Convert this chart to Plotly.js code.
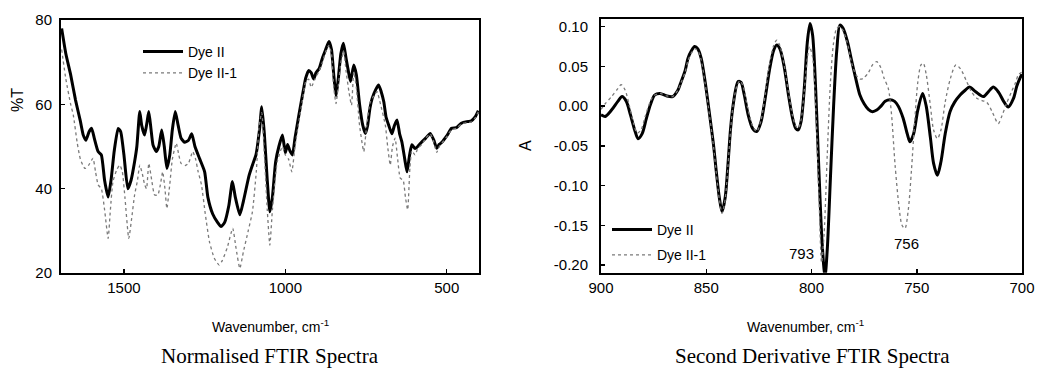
<!DOCTYPE html>
<html>
<head>
<meta charset="utf-8">
<script src="https://cdn.plot.ly/plotly-3.0.1.min.js"></script>
<style>html,body{margin:0;padding:0;background:#fff;}#chart{width:1038px;height:372px;}</style>
</head>
<body>
<div id="chart"></div>
<script>
// ---------- Normalised FTIR spectra (%T vs wavenumber) ----------
const wnNormDyeII = [1693,1680,1665,1650,1635,1626,1618,1608,1600,1592,1580,1570,1560,1549,1540,1530,1518,1510,1500,1488,1478,1467,1460,1451,1445,1436,1428,1423,1416,1410,1400,1392,1383,1375,1367,1358,1350,1341,1332,1323,1312,1300,1290,1280,1265,1250,1240,1225,1210,1199,1188,1175,1164,1155,1141,1130,1112,1100,1091,1080,1073,1065,1056,1048,1040,1030,1020,1009,1000,993,986,978,970,958,945,937,928,920,912,905,895,885,875,865,857,850,843,836,828,820,812,805,798,788,780,770,760,752,745,738,731,720,711,703,695,688,680,670,662,654,646,639,630,623,615,608,598,590,577,565,551,540,531,523,515,500,485,470,455,438,425,412,402];
const tNormDyeII = [78,72,67,61,56,52.7,51.5,53.5,54.3,52,48.8,48,42,38,42,49,54.3,53.5,48,40,42,46.4,50,58.3,55,52.7,56,58.3,54,50.4,48.8,50,53.9,50,44.8,48,54,58.3,55,52,51,51.5,53,50,47,44,38,34,32,31,32,36,41.7,38,33.8,37,43.2,46,48,54,59.4,53,42,34.5,38,46.4,50,52.7,48.5,50.5,49,48,52,57.5,63,66.2,68,67.5,66,67.5,68.5,71,73,74.9,73,67,62,66,72,74.5,71,68,65.4,69.3,67,60,55,53.1,55,59,61.4,63.5,64.6,63,60.6,57,55.1,53,55,56.3,53,51.1,47,44,48,50.4,49.5,50,51.1,52,53.1,51.5,49.6,50.5,51,52.5,54.3,54.5,55.5,55.9,56,57,58.5];
const wnNormDyeII1 = [1693,1680,1665,1657,1645,1635,1621,1610,1596,1588,1580,1570,1560,1549,1542,1534,1522,1513,1505,1497,1485,1476,1467,1458,1451,1443,1436,1430,1423,1414,1405,1395,1387,1380,1373,1367,1358,1350,1338,1330,1323,1310,1300,1287,1278,1270,1260,1248,1235,1220,1205,1195,1180,1163,1153,1141,1130,1115,1102,1090,1081,1073,1065,1056,1048,1040,1025,1009,1000,990,980,970,958,947,937,928,920,916,908,895,885,875,865,857,850,843,835,828,819,812,803,795,788,780,770,757,748,737,726,716,705,690,683,675,668,660,652,644,635,628,621,614,608,598,590,577,565,551,540,531,523,515,500,485,470,455,438,425,412,402];
const tNormDyeII1 = [73,66,60,57.5,51,47,44.8,45.5,47.2,44,40.9,40,35,28.2,35,41.7,44.5,45.6,44,38,28.2,33,38.5,42,45.6,43.5,41,40,46,42,38.5,38.5,41,44,40,35.3,41,47,50.8,48,46,45.5,46,48.8,47,44,41,34,27.4,23.5,21.9,23,26,30.6,26,21.1,25,30,34.5,44,55.1,58,48,35,26.6,35,46.4,50,48,47,44,50,56,61,65.4,66,64,64.6,66,68,70,72.5,74,72,64,60.2,65,70,72.5,68,63,59.8,67.7,64,55,48.8,55,60.5,62,63,60,55,50,45.6,50,52,47,42.5,42,38,35,45,49,48,49.5,50.5,52,53,51,48.6,50,50.8,52.3,54,54.3,55.3,55.7,55.8,56.8,58.2];

// ---------- Second derivative FTIR spectra (A vs wavenumber) ----------
const wnDerDyeII = [900,898,895,892,890,888,886,884,882.4,880.5,878.5,876.5,874.5,872,869,866,863.5,861.9,860,858.7,857,855.5,854,852.4,850.5,848.4,846.5,845.2,843.8,842.5,841,839.7,838.5,837.3,834.9,833.5,832,830,828,826,824,822,820,818,816.5,815,813,811,809,807.5,806.3,805,803.5,802,800.7,799.5,798,796.5,795,793.6,792.5,791,789.5,788,786.5,785,783,781,779,777,775,773,771,769,767,765,762.7,760.5,758.8,756.5,754.5,753.2,751.5,749.5,747.2,745.5,743.5,742,740.2,738.5,736.5,734.2,732,729.4,727,725,722,718.4,716,713.6,711,708.5,706.5,704,702.5,701,700];
const aDerDyeII = [-0.011,-0.013,-0.005,0.006,0.012,0.006,-0.011,-0.030,-0.041,-0.035,-0.016,0.002,0.014,0.016,0.013,0.012,0.020,0.031,0.045,0.060,0.070,0.075,0.072,0.060,0.030,-0.011,-0.050,-0.083,-0.115,-0.133,-0.115,-0.074,-0.030,0.000,0.031,0.030,0.015,-0.012,-0.028,-0.032,-0.020,0.010,0.045,0.070,0.077,0.072,0.050,0.015,-0.015,-0.028,-0.030,-0.020,0.020,0.080,0.104,0.090,0.020,-0.080,-0.170,-0.215,-0.180,-0.090,0.000,0.070,0.102,0.098,0.082,0.058,0.035,0.014,0.003,-0.004,-0.007,-0.005,0.000,0.006,0.008,0.006,0.000,-0.015,-0.035,-0.045,-0.035,-0.005,0.016,0.000,-0.040,-0.072,-0.087,-0.070,-0.035,-0.007,0.005,0.014,0.020,0.024,0.018,0.012,0.018,0.024,0.017,0.005,-0.001,0.010,0.025,0.035,0.040];
const wnDerDyeII1 = [900,898,895,892,890.4,888.5,886.5,884.5,882.8,881,879,877,875,872,869,866,863.5,861.9,860,858.7,857,855.5,854,852.4,850.5,848.4,846.5,845.2,843.8,842.5,841,839.7,838.5,837.3,835.5,834,832.5,830.5,828,826,824,822,820,818,816.5,815,813,811,809,807.5,806.3,805,803.5,802,801,799.5,798,796.5,795.2,794,792.5,791,789.5,788,786.5,785,783,781,779,777,775.4,773,771,769,767,765.5,763.5,762,760.3,758.5,757,755.6,754,752.5,751,749.5,748,746.9,745.5,743.5,742,740.2,738.5,736.5,734,731.4,729,726.3,724,721.5,719,716.8,714,711.3,709.5,707.4,705,703,701.8,700];
const aDerDyeII1 = [-0.004,0.003,0.012,0.022,0.027,0.020,0.000,-0.022,-0.034,-0.030,-0.013,0.003,0.013,0.016,0.013,0.012,0.020,0.030,0.043,0.057,0.067,0.072,0.070,0.058,0.028,-0.013,-0.052,-0.085,-0.117,-0.135,-0.117,-0.076,-0.032,0.000,0.025,0.032,0.025,0.000,-0.025,-0.032,-0.018,0.015,0.052,0.076,0.083,0.076,0.052,0.018,-0.012,-0.025,-0.028,-0.018,0.018,0.060,0.075,0.062,0.000,-0.110,-0.197,-0.160,-0.060,0.030,0.080,0.098,0.100,0.095,0.080,0.055,0.040,0.034,0.035,0.042,0.052,0.056,0.048,0.035,0.022,-0.010,-0.074,-0.125,-0.150,-0.154,-0.130,-0.080,-0.020,0.030,0.052,0.054,0.040,0.000,-0.030,-0.041,-0.030,0.005,0.035,0.052,0.046,0.031,0.018,0.010,0.007,0.005,-0.008,-0.022,-0.012,0.003,0.018,0.030,0.039,0.043];

// ---------- tick labels ----------
const leftXTicks = [1500, 1000, 500];
const leftYTicks = [20, 40, 60, 80];
const rightXTicks = [900, 850, 800, 750, 700];
const rightYTicks = [-0.20, -0.15, -0.10, -0.05, 0.00, 0.05, 0.10];
const rightYTickText = ['-0.20', '-0.15', '-0.10', '-0.05', '0.00', '0.05', '0.10'];

const seriesNames = ['Dye II', 'Dye II-1'];
const panelCaptions = ['Normalised FTIR Spectra', 'Second Derivative FTIR Spectra'];
const xTitle = 'Wavenumber, cm<sup>-1</sup>';
const peakLabels = ['793', '756'];

const thick = {color: '#000', width: 3};
const thin = {color: '#7a7a7a', width: 1.3, dash: 'dot'};

const traces = [
  {x: wnNormDyeII, y: tNormDyeII, name: seriesNames[0], type: 'scatter', mode: 'lines',
   line: Object.assign({shape: 'spline', smoothing: 0.5}, thick), xaxis: 'x', yaxis: 'y', legend: 'legend'},
  {x: wnNormDyeII1, y: tNormDyeII1, name: seriesNames[1], type: 'scatter', mode: 'lines',
   line: Object.assign({shape: 'spline', smoothing: 0.5}, thin), xaxis: 'x', yaxis: 'y', legend: 'legend'},
  {x: wnDerDyeII, y: aDerDyeII, name: seriesNames[0], type: 'scatter', mode: 'lines',
   line: Object.assign({shape: 'spline', smoothing: 0.8}, thick), xaxis: 'x2', yaxis: 'y2', legend: 'legend2', legendgroup: 'g1'},
  {x: wnDerDyeII1, y: aDerDyeII1, name: seriesNames[1], type: 'scatter', mode: 'lines',
   line: Object.assign({shape: 'spline', smoothing: 0.8}, thin), xaxis: 'x2', yaxis: 'y2', legend: 'legend2', legendgroup: 'g2'}
];

const W = 1038, H = 372;
const px = v => v / W, py = v => 1 - v / H;

const axisBase = {
  showline: true, mirror: true, linecolor: '#000', linewidth: 2,
  ticks: 'inside', ticklen: 4, tickwidth: 1.5, tickcolor: '#000',
  showgrid: false, zeroline: false, fixedrange: true,
  tickfont: {family: 'Liberation Sans, Arial, sans-serif', size: 15, color: '#000'}
};

function note(text, x, y, extra) {
  return Object.assign({text: text, xref: 'paper', yref: 'paper', x: px(x), y: py(y),
    xanchor: 'center', yanchor: 'middle', showarrow: false}, extra);
}

const serif = 'Liberation Serif, Times New Roman, serif';

const layout = {
  width: W, height: H,
  margin: {l: 0, r: 0, t: 0, b: 0},
  paper_bgcolor: '#fff', plot_bgcolor: '#fff',
  font: {family: 'Liberation Sans, Arial, sans-serif', color: '#000'},
  xaxis: Object.assign({}, axisBase, {domain: [px(61), px(479)], range: [1695, 400],
    tickmode: 'array', tickvals: leftXTicks, ticklabelstandoff: 0, anchor: 'y'}),
  yaxis: Object.assign({}, axisBase, {domain: [py(273), py(20)], range: [20, 80],
    tickmode: 'array', tickvals: leftYTicks, ticklabelstandoff: 4, anchor: 'x'}),
  xaxis2: Object.assign({}, axisBase, {domain: [px(601), px(1022)], range: [900, 700],
    tickmode: 'array', tickvals: rightXTicks, ticklabelstandoff: 0, anchor: 'y2'}),
  yaxis2: Object.assign({}, axisBase, {domain: [py(272.7), py(18.5)], range: [-0.2097, 0.1103],
    tickmode: 'array', tickvals: rightYTicks, ticktext: rightYTickText, ticklabelstandoff: 8, anchor: 'x2'}),
  showlegend: true,
  legend: {x: px(138), y: py(36), xanchor: 'left', yanchor: 'top', bgcolor: 'rgba(0,0,0,0)',
    font: {size: 14, color: '#000'}, itemwidth: 40, tracegroupgap: 0},
  legend2: {x: px(607), y: py(214), xanchor: 'left', yanchor: 'top', bgcolor: 'rgba(0,0,0,0)',
    font: {size: 14, color: '#000'}, itemwidth: 40, tracegroupgap: 4},
  annotations: [
    note('%T', 17, 100, {textangle: -90, font: {size: 16}}),
    note('A', 525, 146, {textangle: -90, font: {size: 16}}),
    note(xTitle, 270, 326, {font: {size: 14}}),
    note(xTitle, 805, 326, {font: {size: 14}}),
    note(panelCaptions[0], 270, 356, {font: {family: serif, size: 21}}),
    note(panelCaptions[1], 812, 356, {font: {family: serif, size: 21}}),
    note(peakLabels[0], 801.7, 254, {font: {size: 15}}),
    note(peakLabels[1], 906.7, 243, {font: {size: 15}})
  ]
};

Plotly.newPlot('chart', traces, layout, {displayModeBar: false, staticPlot: true});
</script>
</body>
</html>
